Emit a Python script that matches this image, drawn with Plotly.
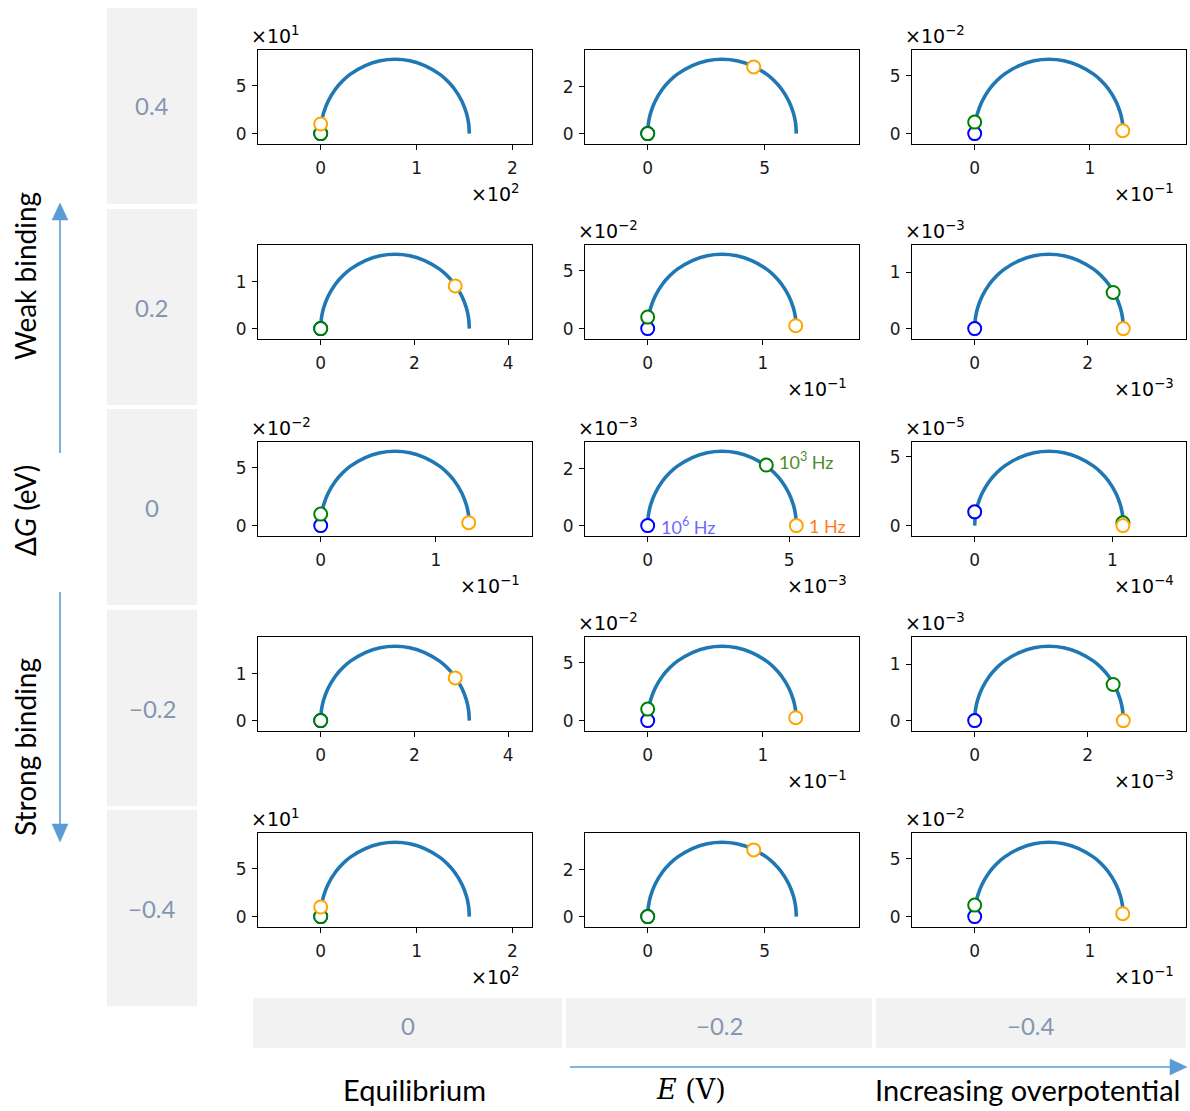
import plotly.graph_objects as go

# ---------------- data ----------------
ROW_LABELS = ["0.4", "0.2", "0", "\u22120.2", "\u22120.4"]   # ΔG (eV)
COL_LABELS = ["0", "\u22120.2", "\u22120.4"]                 # E (V)

# semicircle diameter (real units) for each panel, row-major
DIAMETER = [
    [155.0, 6.35, 0.129],
    [3.17, 0.129, 2.63e-3],
    [0.129, 5.25e-3, 1.08e-4],
    [3.17, 0.129, 2.63e-3],
    [155.0, 6.35, 0.129],
]
# exponent of the axis multipliers (x: bottom-right label, y: top-left label); 0 = no multiplier
X_EXP = [[2, 0, -1], [0, -1, -3], [-1, -3, -4], [0, -1, -3], [2, 0, -1]]
Y_EXP = [[1, 0, -2], [0, -2, -3], [-2, -3, -5], [0, -2, -3], [1, 0, -2]]
X_DTICK = [[1, 5, 1], [2, 1, 2], [1, 5, 1], [2, 1, 2], [1, 5, 1]]
Y_DTICK = [[5, 2, 5], [1, 5, 1], [5, 2, 5], [1, 5, 1], [5, 2, 5]]

# frequency markers (real units): 10^6 Hz (blue), 10^3 Hz (green), 1 Hz (orange)
BLUE_X = [[0, 0, 0], [0, 0, 0], [0, 0, 0], [0, 0, 0], [0, 0, 0]]
BLUE_Y = [[0, 0, 0], [0, 0, 0], [0, 0, 1.0e-5], [0, 0, 0], [0, 0, 0]]
GREEN_X = [[0, 0, 0], [0, 0, 2.45e-3], [0, 4.19e-3, 1.077e-4], [0, 0, 2.45e-3], [0, 0, 0]]
GREEN_Y = [[0, 0, 0.010], [0, 0.010, 0.64e-3], [0.010, 2.14e-3, 0.2e-5], [0, 0.010, 0.64e-3], [0, 0, 0.010]]
ORANGE_X = [[0, 4.53, 0.1285], [2.87, 0.1285, 2.63e-3], [0.1285, 5.25e-3, 1.077e-4], [2.87, 0.1285, 2.63e-3], [0, 4.53, 0.1285]]
ORANGE_Y = [[10.0, 2.85, 0.0025], [0.91, 0.0025, 0], [0.0025, 0, 0], [0.91, 0.0025, 0], [10.0, 2.85, 0.0025]]

# arc shape, as fractions of the diameter
ARC_U = [0, 0.005, 0.02, 0.05, 0.1, 0.15, 0.2, 0.3, 0.4, 0.5, 0.6, 0.7, 0.8, 0.85, 0.9, 0.95, 0.98, 0.995, 1.0]
ARC_V = [0, 0.0705, 0.14, 0.218, 0.3, 0.357, 0.4, 0.458, 0.49, 0.5, 0.49, 0.458, 0.4, 0.357, 0.3, 0.218, 0.14, 0.0705, 0]

FREQ_LABELS = ["10<sup>6</sup> Hz", "10<sup>3</sup> Hz", "1 Hz"]

# ---------------- layout geometry (pixels) ----------------
W, H = 1190, 1111
COL_LEFT = [258, 585, 912]
ROW_TOP = [50, 245, 442, 637, 833]
PW, PH = 274, 94

def px(x):
    return x / W

def py(y):
    return 1 - y / H

TICK_FONT = dict(family="DejaVu Sans", size=17, color="#1a1a1a")
LABEL_FONT = "Lato, Open Sans, sans-serif"
LBL_COLOR = "#8497b0"
ARROW_COLOR = "#5b9bd5"

def sup_exp(e):
    s = str(e).replace("-", "\u2212")
    return "\u00d710<sup>" + s + "</sup>"

fig = go.Figure()
layout = {}
annotations = []
shapes = []

for r in range(5):
    for c in range(3):
        idx = r * 3 + c + 1
        xa = "x" if idx == 1 else f"x{idx}"
        ya = "y" if idx == 1 else f"y{idx}"
        ex, ey = X_EXP[r][c], Y_EXP[r][c]
        sx, sy = 10.0 ** ex, 10.0 ** ey
        D = DIAMETER[r][c]
        fig.add_trace(go.Scatter(
            x=[u * D / sx for u in ARC_U], y=[v * D / sy for v in ARC_V],
            mode="lines", line=dict(color="#1f77b4", width=3.6, shape="spline", smoothing=1.0),
            xaxis=xa, yaxis=ya, showlegend=False, hoverinfo="skip"))
        for col, X, Y in (("blue", BLUE_X, BLUE_Y), ("green", GREEN_X, GREEN_Y), ("orange", ORANGE_X, ORANGE_Y)):
            fig.add_trace(go.Scatter(
                x=[X[r][c] / sx], y=[Y[r][c] / sy], mode="markers",
                marker=dict(size=13, color="white", line=dict(color=col, width=2)),
                xaxis=xa, yaxis=ya, showlegend=False, hoverinfo="skip"))

        rad = D / 2
        yr = [-0.14 * rad / sy, 1.125 * rad / sy]
        half = 1.265 * rad * PW / PH / 2
        xr = [(rad - half) / sx, (rad + half) / sx]
        left, top = COL_LEFT[c], ROW_TOP[r]
        axis_common = dict(showline=True, linecolor="black", linewidth=1.2, mirror=True,
                           ticks="outside", ticklen=5, tickwidth=1.2, tickcolor="black",
                           showgrid=False, zeroline=False, tickfont=TICK_FONT, fixedrange=True)
        layout["xaxis" if idx == 1 else f"xaxis{idx}"] = dict(
            domain=[px(left), px(left + PW)], anchor=ya, range=xr, ticklabelstandoff=3,
            tick0=0, dtick=X_DTICK[r][c], **axis_common)
        layout["yaxis" if idx == 1 else f"yaxis{idx}"] = dict(
            domain=[py(top + PH), py(top)], anchor=xa, range=yr, ticklabelstandoff=2,
            tick0=0, dtick=Y_DTICK[r][c], **axis_common)

        if ey != 0:
            annotations.append(dict(x=px(left - 9), y=py(top - 1), xref="paper", yref="paper",
                                    text=sup_exp(ey), showarrow=False, xanchor="left", yanchor="bottom",
                                    font=dict(family="DejaVu Sans", size=19, color="black")))
        if ex != 0:
            annotations.append(dict(x=px(left + PW - 10), y=py(top + PH + 49), xref="paper", yref="paper",
                                    text=sup_exp(ex), showarrow=False, xanchor="right", yanchor="middle",
                                    font=dict(family="DejaVu Sans", size=19, color="black")))

        if r == 2 and c == 1:
            fc = ["#6a6aff", "#4f8a2b", "#ff7a22"]
            for (X, Y), t, colr in zip(((BLUE_X, BLUE_Y), (GREEN_X, GREEN_Y), (ORANGE_X, ORANGE_Y)), FREQ_LABELS, fc):
                annotations.append(dict(x=X[r][c] / sx, y=Y[r][c] / sy, xref=xa, yref=ya, text=t,
                                        showarrow=False, xanchor="left", yanchor="middle", xshift=11,
                                        yshift=(4 if t.startswith("10<sup>3") else 0),
                                        font=dict(family=LABEL_FONT, size=18, color=colr)))

# grey label boxes on the left (ΔG) and at the bottom (E)
row_centers = [106, 307, 507, 708, 908]
for yc, lab in zip(row_centers, ROW_LABELS):
    shapes.append(dict(type="rect", xref="paper", yref="paper", x0=px(107), x1=px(197),
                       y0=py(yc + 98), y1=py(yc - 98), fillcolor="#f2f2f2", line=dict(width=0), layer="below"))
    annotations.append(dict(x=px(152), y=py(yc), xref="paper", yref="paper", text=lab, showarrow=False,
                            xanchor="center", yanchor="middle",
                            font=dict(family=LABEL_FONT, size=24, color=LBL_COLOR)))
col_boxes = [(253, 562), (566, 872), (876, 1186)]
for (x0, x1), lab in zip(col_boxes, COL_LABELS):
    shapes.append(dict(type="rect", xref="paper", yref="paper", x0=px(x0), x1=px(x1),
                       y0=py(1048), y1=py(998), fillcolor="#f2f2f2", line=dict(width=0), layer="below"))
    annotations.append(dict(x=px((x0 + x1) / 2), y=py(1025), xref="paper", yref="paper", text=lab,
                            showarrow=False, xanchor="center", yanchor="middle",
                            font=dict(family=LABEL_FONT, size=24, color=LBL_COLOR)))

# side titles
for txt, yc in (("Weak binding", 276), ("\u0394<i>G</i> (eV)", 511), ("Strong binding", 747)):
    annotations.append(dict(x=px(25), y=py(yc), xref="paper", yref="paper", text=txt, showarrow=False,
                            xanchor="center", yanchor="middle", textangle=-90,
                            font=dict(family=LABEL_FONT, size=28, color="black")))
for txt, xc in (("Equilibrium", 414), ("<i>E</i> (V)", 691), ("Increasing overpotential", 1027)):
    fam = "DejaVu Serif" if "E</i>" in txt else LABEL_FONT
    annotations.append(dict(x=px(xc), y=py(1089), xref="paper", yref="paper", text=txt, showarrow=False,
                            xanchor="center", yanchor="middle",
                            font=dict(family=fam, size=(27 if "E</i>" in txt else 29), color="black")))

# arrows
def line(x0, y0, x1, y1):
    return dict(type="line", xref="paper", yref="paper", x0=px(x0), y0=py(y0), x1=px(x1), y1=py(y1),
                line=dict(color=ARROW_COLOR, width=1.6))

def tri(pts):
    path = "M " + " L ".join(f"{px(a)},{py(b)}" for a, b in pts) + " Z"
    return dict(type="path", xref="paper", yref="paper", path=path, fillcolor=ARROW_COLOR,
                line=dict(color=ARROW_COLOR, width=0.5))

shapes += [line(60, 453, 60, 218), tri([(52, 220), (68, 220), (60, 203)]),
           line(60, 592, 60, 826), tri([(52, 824), (68, 824), (60, 842)]),
           line(570, 1067, 1172, 1067), tri([(1170, 1059), (1170, 1075), (1187, 1067)])]

fig.update_layout(width=W, height=H, margin=dict(l=0, r=0, t=0, b=0), autosize=False,
                  paper_bgcolor="white", plot_bgcolor="white",
                  annotations=annotations, shapes=shapes, **layout)

fig.write_html("out.html", config={"displayModeBar": False},
               post_script="document.body.style.margin='0';")
